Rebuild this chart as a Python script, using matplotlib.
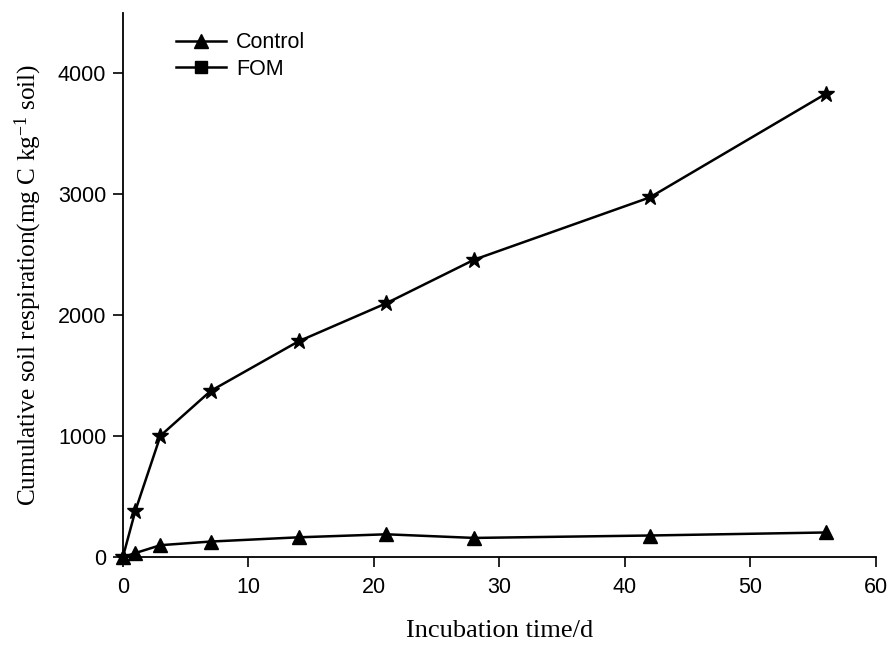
import matplotlib
matplotlib.use("Agg")
import matplotlib.pyplot as plt
from matplotlib.lines import Line2D

# incubation days and cumulative respiration (mg C / kg soil)
days = [0, 1, 3, 7, 14, 21, 28, 42, 56]
control = [0, 35, 100, 130, 165, 190, 160, 180, 205]
fom = [0, 385, 1005, 1375, 1785, 2100, 2460, 2975, 3830]

x_ticks = [0, 10, 20, 30, 40, 50, 60]
y_ticks = [0, 1000, 2000, 3000, 4000]

plt.rcParams["font.family"] = "Liberation Sans"
plt.rcParams["mathtext.fontset"] = "custom"
plt.rcParams["mathtext.rm"] = "Liberation Serif"
plt.rcParams["mathtext.it"] = "Liberation Serif:italic"

fig = plt.figure(figsize=(8.9, 6.45), dpi=100)
ax = fig.add_axes([0.138, 0.136, 0.846, 0.844])

ax.plot(days, control, color="black", lw=1.8, marker="^", ms=10, clip_on=False, zorder=3)
ax.plot(days, fom, color="black", lw=1.8, marker="*", ms=12, clip_on=False, zorder=3)

ax.set_xlim(0, 60)
ax.set_ylim(0, 4500)
ax.set_xticks(x_ticks)
ax.set_yticks(y_ticks)
ax.tick_params(labelsize=15.5, direction="out", length=7, width=1.2)
ax.tick_params(axis="x", pad=7)
ax.tick_params(axis="y", pad=5)

for side in ["top", "right"]:
    ax.spines[side].set_visible(False)
for side in ["left", "bottom"]:
    ax.spines[side].set_linewidth(1.3)

ax.set_xlabel("Incubation time/d", family="Liberation Serif", fontsize=19, labelpad=16)
ax.set_ylabel("Cumulative soil respiration(mg C kg$^{-1}$ soil)",
              family="Liberation Serif", fontsize=18.2, labelpad=10)

handles = [
    Line2D([], [], color="black", lw=1.8, marker="^", ms=10),
    Line2D([], [], color="black", lw=1.8, marker="s", ms=8.5),
]
ax.legend(handles, ["Control", "FOM"], loc="upper left", bbox_to_anchor=(0.045, 1.0),
          frameon=False, fontsize=15.5, handlelength=2.3, handletextpad=0.5,
          labelspacing=0.25)

fig.savefig("out.png", dpi=100)
